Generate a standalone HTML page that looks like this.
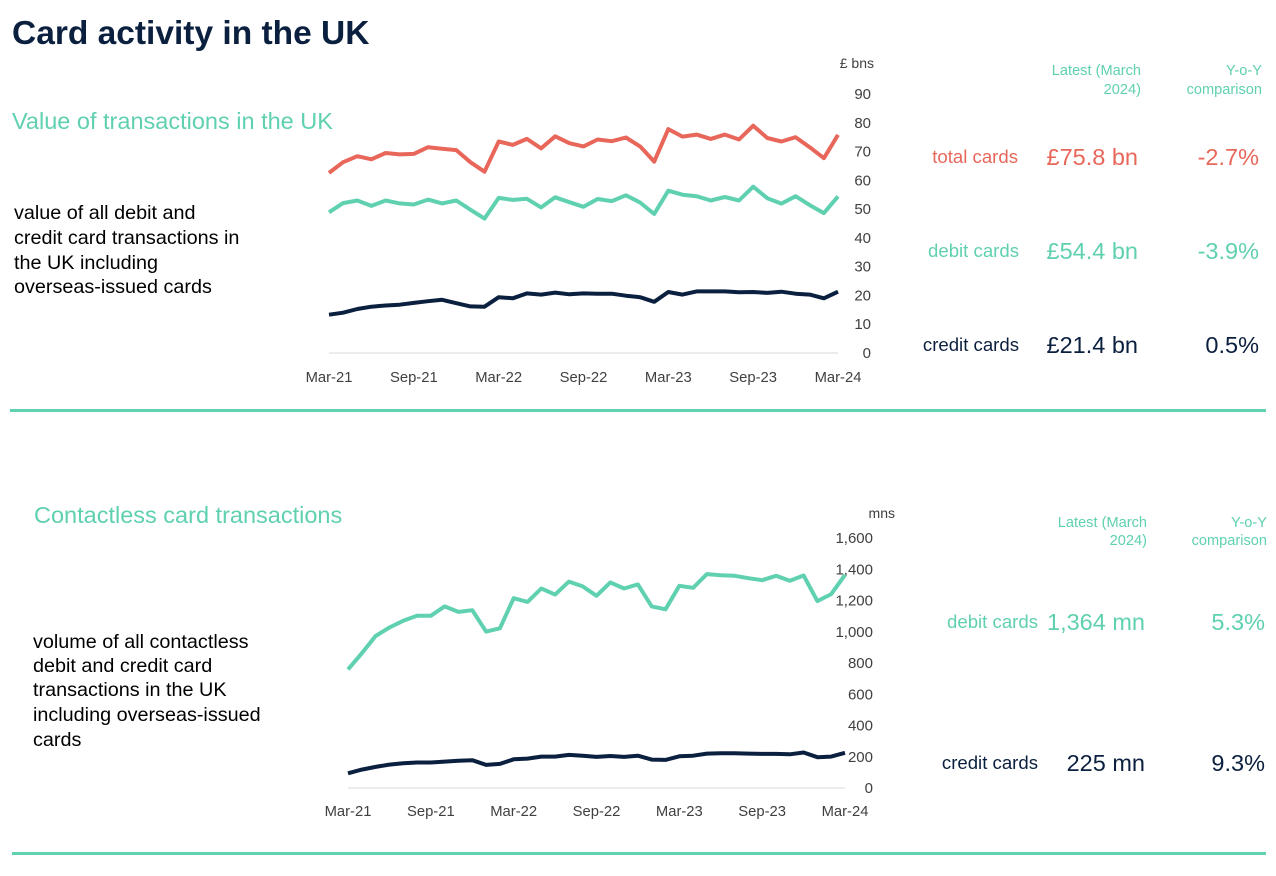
<!DOCTYPE html>
<html><head><meta charset="utf-8"><style>
body{margin:0;background:#fff;width:1276px;height:871px;overflow:hidden;font-family:"Liberation Sans",Arial,sans-serif}
svg text{font-family:"Liberation Sans",Arial,sans-serif}
</style></head><body>
<svg id="s" width="1276" height="871" xmlns="http://www.w3.org/2000/svg">
<text x="12" y="44" font-size="33.5" font-weight="bold" fill="#0b1f3f">Card activity in the UK</text>
<text x="12" y="129" font-size="23.5" fill="#5fd0b0">Value of transactions in the UK</text>
<g font-size="19.8" fill="#000">
<text x="14" y="219">value of all debit and</text>
<text x="14" y="244">credit card transactions in</text>
<text x="14" y="269">the UK including</text>
<text x="14" y="293">overseas-issued cards</text>
</g>
<g font-size="14.6" fill="#5fd0b0" text-anchor="end">
<text x="1141" y="75">Latest (March</text><text x="1141" y="94">2024)</text>
<text x="1262" y="75">Y-o-Y</text><text x="1262" y="94">comparison</text>
</g>
<g text-anchor="end">
<text x="1018" y="163" font-size="18.6" fill="#e8675a">total cards</text>
<text x="1138" y="165" font-size="23.5" fill="#e8675a">£75.8 bn</text>
<text x="1259" y="165" font-size="23.5" fill="#e8675a">-2.7%</text>
<text x="1019" y="257" font-size="18.6" fill="#5fd0b0">debit cards</text>
<text x="1138" y="259" font-size="23.5" fill="#5fd0b0">£54.4 bn</text>
<text x="1259" y="259" font-size="23.5" fill="#5fd0b0">-3.9%</text>
<text x="1019" y="351" font-size="18.6" fill="#0b1f3f">credit cards</text>
<text x="1138" y="353" font-size="23.5" fill="#0b1f3f">£21.4 bn</text>
<text x="1259" y="353" font-size="23.5" fill="#0b1f3f">0.5%</text>
</g>
<rect x="10" y="409" width="1256" height="3" fill="#5fd0b0"/>
<text x="34" y="523" font-size="23.5" fill="#5fd0b0">Contactless card transactions</text>
<g font-size="19.8" fill="#000">
<text x="33" y="648">volume of all contactless</text>
<text x="33" y="672">debit and credit card</text>
<text x="33" y="696">transactions in the UK</text>
<text x="33" y="721">including overseas-issued</text>
<text x="33" y="746">cards</text>
</g>
<g font-size="14.6" fill="#5fd0b0" text-anchor="end">
<text x="1147" y="527">Latest (March</text><text x="1147" y="545">2024)</text>
<text x="1267" y="527">Y-o-Y</text><text x="1267" y="545">comparison</text>
</g>
<g text-anchor="end">
<text x="1038" y="628" font-size="18.6" fill="#5fd0b0">debit cards</text>
<text x="1145" y="630" font-size="23.5" fill="#5fd0b0">1,364 mn</text>
<text x="1265" y="630" font-size="23.5" fill="#5fd0b0">5.3%</text>
<text x="1038" y="769" font-size="18.6" fill="#0b1f3f">credit cards</text>
<text x="1145" y="771" font-size="23.5" fill="#0b1f3f">225 mn</text>
<text x="1265" y="771" font-size="23.5" fill="#0b1f3f">9.3%</text>
</g>
<rect x="12" y="852" width="1254" height="3" fill="#5fd0b0"/>
<g id="c"></g>
</svg>
<script>
var NS="http://www.w3.org/2000/svg",g=document.getElementById("c");
function el(t,a,txt){var e=document.createElementNS(NS,t);for(var k in a)e.setAttribute(k,a[k]);if(txt)e.textContent=txt;g.appendChild(e);return e;}
function chart(x0,x1,y0,ymax,ytop,ticks,fmt,unit,ux,uy,labx,series,xly){
 var sy=(y0-ytop)/ymax,dx=(x1-x0)/36;
 el("line",{x1:x0,x2:x1,y1:y0,y2:y0,stroke:"#d9d9d9","stroke-width":1});
 ticks.forEach(function(v){el("text",{x:labx,y:y0-v*sy+5,"font-size":15,fill:"#404040","text-anchor":"end"},fmt(v));});
 el("text",{x:ux,y:uy,"font-size":14,fill:"#404040","text-anchor":"end"},unit);
 ["Mar-21","Sep-21","Mar-22","Sep-22","Mar-23","Sep-23","Mar-24"].forEach(function(l,i){el("text",{x:x0+i*6*dx,y:xly,"font-size":14.8,fill:"#404040","text-anchor":"middle"},l);});
 series.forEach(function(s){var p=s.d.map(function(v,i){return (x0+i*dx).toFixed(1)+","+(y0-v*sy).toFixed(1);}).join(" ");
  el("polyline",{points:p,fill:"none",stroke:s.c,"stroke-width":4,"stroke-linejoin":"round"});});
}
var red=[62.6,66.3,68.4,67.3,69.5,69,69.2,71.5,71,70.5,66.3,63,73.5,72.3,74.4,71.1,75.3,72.9,71.8,74.2,73.6,74.9,71.8,66.5,77.8,75.2,75.9,74.4,75.9,74.2,79,74.7,73.5,75,71.5,67.7,75.8];
var grn=[48.9,52.1,53,51.1,53,52,51.6,53.3,52,53,49.8,46.7,53.9,53.2,53.6,50.6,54.1,52.4,50.8,53.5,52.8,54.8,52.3,48.3,56.4,55,54.5,53,54.2,53,57.8,53.8,51.9,54.5,51.4,48.6,54.4];
var nav=[13.3,14,15.3,16.1,16.5,16.8,17.4,18,18.5,17.3,16.2,16.1,19.4,19,20.7,20.3,21,20.4,20.7,20.6,20.6,19.9,19.4,17.8,21.2,20.3,21.4,21.4,21.4,21.1,21.2,20.9,21.3,20.6,20.3,19,21.3];
chart(329,838,353,90,94,[0,10,20,30,40,50,60,70,80,90],String,"£ bns",874,68,871,
 [{d:red,c:"#e8675a"},{d:grn,c:"#5fd0b0"},{d:nav,c:"#0b1f3f"}],382);
var g2=[759,862,973,1027,1070,1102,1102,1162,1127,1138,1001,1022,1215,1191,1277,1238,1321,1290,1230,1316,1277,1303,1162,1144,1294,1281,1369,1362,1358,1343,1330,1358,1326,1360,1196,1241,1364];
var n2=[94,118,135,150,158,163,163,169,175,178,148,154,184,188,201,201,212,207,199,205,199,207,182,180,203,207,220,222,222,220,218,218,216,227,197,201,225];
chart(348,845,788,1600,538,[0,200,400,600,800,1000,1200,1400,1600],function(v){return v.toLocaleString("en-US");},"mns",895,518,873,
 [{d:g2,c:"#5fd0b0"},{d:n2,c:"#0b1f3f"}],816);
</script>
</body></html>
